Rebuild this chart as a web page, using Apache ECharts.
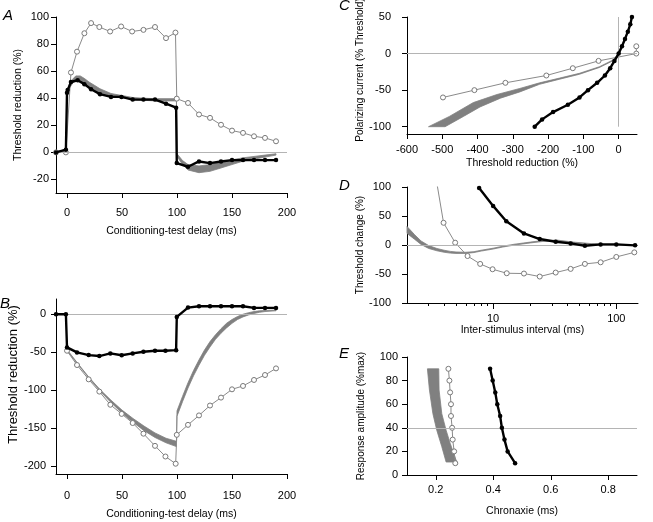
<!DOCTYPE html>
<html><head><meta charset="utf-8">
<script src="https://cdn.jsdelivr.net/npm/echarts@6/dist/echarts.min.js"></script>
<style>html,body{margin:0;padding:0;background:#fff}#c{width:653px;height:522px}</style>
</head><body><div id="c"></div>
<script>
// ---------- Panel A ----------
const aBlack = [[-10,0],[-1,2],[0,44],[0.6,46],[3.6,52],[9.7,53.3],[15.8,50.4],[21.9,46.6],[30,43],[40,41],[49.5,41],[59.7,39],[69.5,39],[80,39],[90,36],[99.2,33],[99.8,-7.9],[110,-10.6],[120,-6.7],[130,-7.9],[140,-6.7],[150,-5.7],[160,-5.7],[170,-5.7],[180,-5.7],[190,-5.7]];
const aOpen = [[-10,0],[-1,0],[3.6,59],[9.1,74.4],[15.8,88],[21.9,95.5],[29.4,92.6],[39.2,89.3],[49.2,93],[59.2,89.3],[69.5,90.5],[80,92.6],[90,84.4],[98.6,88.5],[99.8,39.7],[110,36.5],[120,28],[130,25.5],[140,20.4],[150,16.1],[160,14.4],[170,11.9],[180,10.7],[190,8.2]];
const aBandUpper = [[-10,0.5],[-1,2],[0,45],[2,50],[5,54],[8,56.5],[12,56.5],[16,54.5],[20,52],[25,49.5],[30,47],[40,43.5],[50,42],[60,40.5],[70,40],[80,39.7],[90,39.7],[99.5,39.7],[100,-1],[105,-6],[110,-9],[120,-10],[130,-9],[140,-7],[150,-5.5],[160,-4],[170,-3],[180,-2],[190,-1]];
const aBandLower = [[-10,-0.5],[-1,1],[0,43],[2,47],[5,51],[8,53],[12,52.5],[16,50],[20,48],[25,46],[30,44],[40,41.5],[50,40.5],[60,39],[70,38.5],[80,38],[90,38],[99.5,38],[100,-3],[105,-9],[110,-13],[120,-15],[130,-14],[140,-11.5],[150,-9],[160,-6.5],[170,-5],[180,-3.5],[190,-2]];
const aXTicks = [0,50,100,150,200];
const aYTicks = [-20,0,20,40,60,80,100];

// ---------- Panel B ----------
const bBlack = [[-10,0],[-1,0],[0,-43.6],[9.1,-50.2],[19.7,-53.7],[29.4,-55],[39.4,-51.5],[49.7,-54],[59.7,-51.5],[69.5,-49.3],[80,-48],[89.5,-48],[99.2,-47.2],[99.8,-3.5],[110,8.7],[120,10.5],[130,10.5],[140,10.5],[150,10.5],[160,10.5],[170,8.3],[180,8.3],[190,8.3]];
const bOpen = [[0,-48],[9.1,-66.8],[19.7,-85.6],[29.4,-101.7],[39.4,-119],[49.7,-131],[59.7,-143],[69.5,-157],[80,-173],[89.5,-187],[98.8,-196.5],[99.8,-158.5],[110,-145.4],[120,-133],[130,-120],[140,-109.6],[150,-98.7],[160,-94.3],[170,-86.4],[180,-79.9],[190,-71.2]];
const bBandUpper = [[0,-46.5],[10,-65],[20,-83],[30,-99],[40,-113],[50,-126],[60,-137],[70,-147],[80,-156],[90,-163],[99.5,-167],[100,-127],[105,-108],[110,-90],[115,-74],[120,-60],[125,-47],[130,-36],[135,-27],[140,-19],[145,-12],[150,-7],[155,-3],[160,0],[165,2],[170,3.5],[175,4.5],[180,5],[190,5.5]];
const bBandLower = [[0,-48],[10,-66],[20,-84],[30,-101],[40,-116],[50,-130],[60,-142],[70,-153],[80,-162],[90,-169],[99.5,-174],[100,-134],[105,-115],[110,-97],[115,-81],[120,-67],[125,-54],[130,-43],[135,-33],[140,-25],[145,-18],[150,-12],[155,-7],[160,-3.5],[165,-1],[170,1],[175,2.5],[180,3.5],[190,4.5]];
const bXTicks = [0,50,100,150,200];
const bYTicks = [-200,-150,-100,-50,0];

// ---------- Panel C ----------
const cBlack = [[-238,-100],[-217,-90],[-186,-80],[-144,-70],[-111,-60],[-87,-50],[-61,-40],[-39,-30],[-24,-20],[-12,-10],[0,0],[9.4,10],[18,20],[26,30],[33,40],[37.6,50]];
const cOpen = [[-498,-60],[-409,-50],[-321,-40],[-205,-30],[-130,-20],[-57,-10],[50,0],[50,10]];
const cBandEdge1 = [[-539,-100],[-480,-86],[-412,-67],[-345,-56],[-280,-47.7],[-224,-40],[-167,-33.5],[-111,-27],[-54.5,-18],[-17,-9],[0,0],[16,18],[30,36],[38,50]];
const cBandEdge2 = [[-492,-100],[-440,-86],[-393,-73],[-335,-61],[-280,-52.4],[-224,-42],[-167,-35],[-111,-28.3],[-54.5,-19],[-17,-10],[0,-1],[16,17],[30,35],[38.5,49]];
const cXTicks = [-600,-500,-400,-300,-200,-100,0];
const cYTicks = [-100,-50,0,50];

// ---------- Panel D ----------
const dBlack = [[7.7,98.3],[10,67.4],[12.8,41],[17.8,20],[23.9,10.3],[32.2,5.7],[42.6,2.8],[55.6,-1.2],[74.6,1],[100,1],[142,-0.6]];
const dOpen = [[3.2,155],[3.96,38.3],[4.92,4],[6.2,-19],[7.85,-32.6],[9.9,-41.8],[12.9,-48.7],[17.8,-49.2],[23.9,-54.4],[32.2,-47.5],[42.6,-41.2],[55.6,-32.6],[74.6,-29.8],[100,-20.6],[140,-12.7]];
const dBandUpper = [[2,32],[2.3,18],[2.6,7],[3,-1],[3.5,-6],[4,-9],[4.5,-11],[5,-12],[6,-12.5],[7,-11.5],[8,-9],[10,-5.5],[12,-2],[15,1.5],[20,5],[25,7.5],[33,8.5],[45,5],[66,2],[80,1]];
const dBandLower = [[2,20],[2.3,10],[2.6,1],[3,-6],[3.5,-10],[4,-12.5],[4.5,-14],[5,-14.5],[6,-14.5],[7,-13],[8,-10.5],[10,-7],[12,-3.5],[15,0],[20,3.5],[25,6],[33,7],[45,3.5],[66,0.5],[80,0]];
const dXTicks = [10,100];
const dXMinorTicks = [3,4,5,6,7,8,9,20,30,40,50,60,70,80,90];
const dYTicks = [-100,-50,0,50,100];

// ---------- Panel E ----------
const eBlack = [[0.389,90],[0.398,80],[0.407,70],[0.414,60],[0.424,50],[0.430,40],[0.439,30],[0.450,20],[0.476,10]];
const eOpen = [[0.244,90],[0.2475,80],[0.250,70],[0.253,60],[0.253,50],[0.257,40],[0.259,30],[0.264,20],[0.268,10]];
const eBandLeft = [[0.171,90],[0.178,72],[0.190,52],[0.2035,38],[0.221,24],[0.236,11]];
const eBandRight = [[0.2105,90],[0.2116,72],[0.221,52],[0.236,38],[0.25,27],[0.273,11]];
const eXTicks = [0.2,0.4,0.6,0.8];
const eYTicks = [0,20,40,60,80,100];

const FONT = "'Liberation Sans', Arial, Helvetica, sans-serif";

function axis(gi, type, min, max, ticks, o) {
  return {
    type: type, gridIndex: gi, min: min, max: max, position: o.position,
    name: o.name || '', nameLocation: 'middle', nameGap: o.nameGap || 0, nameRotate: o.rot || 0,
    nameTextStyle: { fontFamily: FONT, fontSize: o.nameSize || 10.5, color: '#000', padding: o.namePad || 0 },
    axisLine: { show: o.line !== false, onZero: false, lineStyle: { color: '#000', width: 1 } },
    axisTick: { show: true, inside: false, length: o.tickLen || 5, customValues: ticks, lineStyle: { color: '#000', width: 1 } },
    axisLabel: { show: !o.noLabel, customValues: ticks, margin: o.margin || 8, fontFamily: FONT, fontSize: 11, color: '#000' },
    splitLine: { show: false }, minorTick: { show: false }, splitArea: { show: false }
  };
}

function band(xi, yi, edgeA, edgeB) {
  const pts = edgeA.concat(edgeB.slice().reverse());
  return {
    type: 'custom', xAxisIndex: xi, yAxisIndex: yi, silent: true, z: 2,
    data: [pts[0]],
    renderItem: function (params, api) {
      return { type: 'polygon', shape: { points: pts.map(function (p) { return api.coord(p); }) },
        style: { fill: '#808080', stroke: '#808080', lineWidth: 0.8 } };
    }
  };
}
function blackLine(xi, yi, data) {
  return { type: 'line', xAxisIndex: xi, yAxisIndex: yi, data: data, symbol: 'circle', symbolSize: 4.5,
    lineStyle: { color: '#000', width: 2.4 }, itemStyle: { color: '#000' }, z: 6, silent: true };
}
function openLine(xi, yi, data, marks) {
  const s = { type: 'line', xAxisIndex: xi, yAxisIndex: yi, data: data, symbol: 'circle', symbolSize: 5,
    lineStyle: { color: '#8a8a8a', width: 1 }, itemStyle: { color: '#fff', borderColor: '#7a7a7a', borderWidth: 1 }, z: 4, silent: true };
  if (marks) s.markLine = { silent: true, symbol: 'none', animation: false, label: { show: false },
    lineStyle: { color: '#b4b4b4', width: 1, type: 'solid' }, emphasis: { disabled: true }, data: marks };
  return s;
}

const option = {
  animation: false,
  backgroundColor: '#fff',
  grid: [
    { left: 56, top: 17, width: 231, height: 176, containLabel: false, outerBoundsMode: 'none' },
    { left: 56, top: 299, width: 231, height: 175, containLabel: false, outerBoundsMode: 'none' },
    { left: 407, top: 17, width: 230, height: 117, containLabel: false, outerBoundsMode: 'none' },
    { left: 407, top: 187, width: 231, height: 116, containLabel: false, outerBoundsMode: 'none' },
    { left: 407, top: 357, width: 230, height: 118, containLabel: false, outerBoundsMode: 'none' }
  ],
  xAxis: [
    axis(0, 'value', -10, 200, aXTicks, { position: 'bottom', name: 'Conditioning-test delay (ms)', nameGap: 33, margin: 14 }),
    axis(1, 'value', -10, 200, bXTicks, { position: 'bottom', name: 'Conditioning-test delay (ms)', nameGap: 35, margin: 16 }),
    axis(2, 'value', -600, 52, cXTicks, { position: 'bottom', name: 'Threshold reduction (%)', nameGap: 24, margin: 10 }),
    axis(3, 'log', 2, 150, dXTicks, { position: 'bottom', name: 'Inter-stimulus interval (ms)', nameGap: 21, margin: 10, tickLen: 6 }),
    axis(4, 'value', 0.1, 0.9, eXTicks, { position: 'bottom', name: 'Chronaxie (ms)', nameGap: 31, margin: 9 }),
    axis(3, 'log', 2, 150, dXMinorTicks, { position: 'bottom', line: false, noLabel: true, tickLen: 3 })
  ],
  yAxis: [
    axis(0, 'value', -30, 100, aYTicks, { position: 'left', name: 'Threshold reduction (%)', nameGap: 32, rot: 90, margin: 7 }),
    axis(1, 'value', -210, 20, bYTicks, { position: 'left', name: 'Threshold reduction (%)', nameGap: 36, rot: 90, margin: 10, nameSize: 13, namePad: [0, 0, 0, 24] }),
    axis(2, 'value', -110, 50, cYTicks, { position: 'left', name: 'Polarizing current (% Threshold)', nameGap: 42, rot: 90, margin: 16, nameSize: 10, namePad: [0, 0, 0, 11] }),
    axis(3, 'value', -100, 100, dYTicks, { position: 'left', name: 'Threshold change (%)', nameGap: 41, rot: 90, margin: 16, nameSize: 10 }),
    axis(4, 'value', 0, 100, eYTicks, { position: 'left', name: 'Response amplitude (%max)', nameGap: 41, rot: 90, margin: 9, nameSize: 10 })
  ],
  series: [
    band(0, 0, aBandUpper, aBandLower),
    openLine(0, 0, aOpen, [{ yAxis: 0 }]),
    blackLine(0, 0, aBlack),

    band(1, 1, bBandUpper, bBandLower),
    openLine(1, 1, bOpen, [{ yAxis: 0 }]),
    blackLine(1, 1, bBlack),

    band(2, 2, cBandEdge1, cBandEdge2),
    openLine(2, 2, cOpen, [{ yAxis: 0 }, [{ coord: [0, 50] }, { coord: [0, -100] }]]),
    blackLine(2, 2, cBlack),

    band(3, 3, dBandUpper, dBandLower),
    openLine(3, 3, dOpen, [{ yAxis: 0 }]),
    blackLine(3, 3, dBlack),

    band(4, 4, eBandLeft, eBandRight),
    openLine(4, 4, eOpen, [{ yAxis: 40 }]),
    blackLine(4, 4, eBlack)
  ],
  graphic: [
    { type: 'text', left: 3, top: 8, style: { text: 'A', font: 'italic 15px ' + FONT, fill: '#000' } },
    { type: 'text', left: 0, top: 296, style: { text: 'B', font: 'italic 15px ' + FONT, fill: '#000' } },
    { type: 'text', left: 339, top: -2, style: { text: 'C', font: 'italic 15px ' + FONT, fill: '#000' } },
    { type: 'text', left: 339, top: 178, style: { text: 'D', font: 'italic 15px ' + FONT, fill: '#000' } },
    { type: 'text', left: 339, top: 346, style: { text: 'E', font: 'italic 15px ' + FONT, fill: '#000' } }
  ]
};
const chart = echarts.init(document.getElementById('c'), null, { renderer: 'canvas' });
chart.setOption(option);
</script></body></html>
